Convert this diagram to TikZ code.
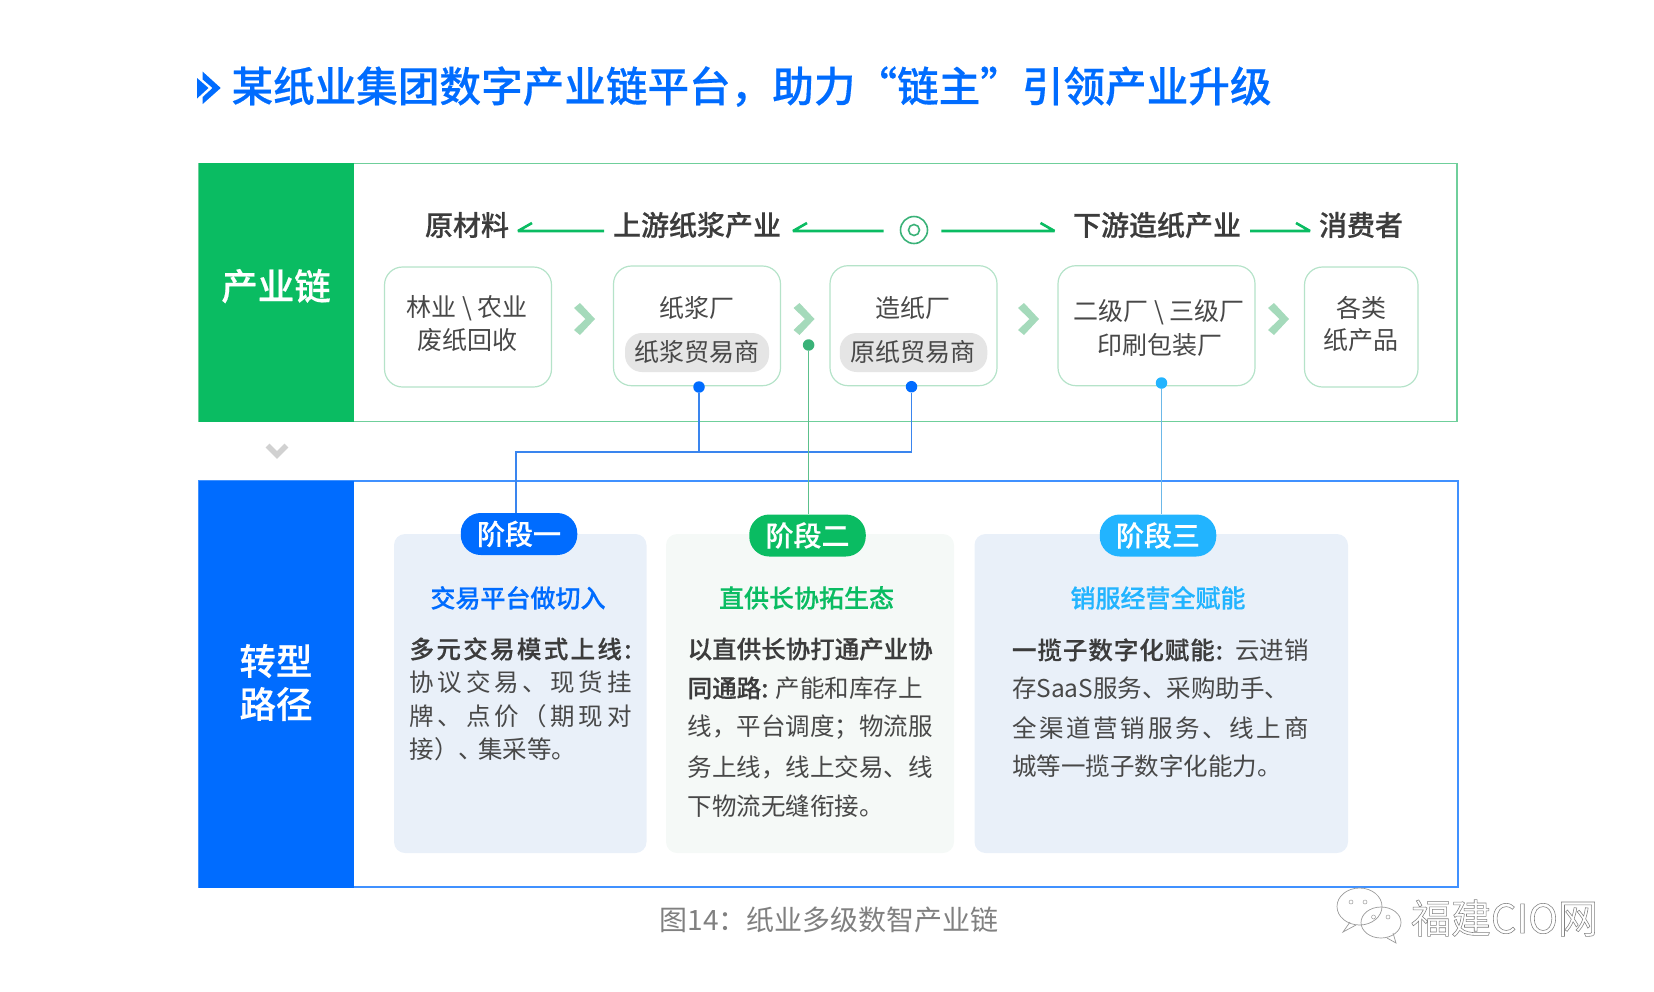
\documentclass[tikz,border=0pt]{standalone}
\usepackage{fontspec}
\setmainfont{Noto Sans CJK SC}[BoldFont={Noto Sans CJK SC Medium},BoldFeatures={FakeBold=0.4}]
\definecolor{cgreen}{HTML}{0ABC62}
\definecolor{cblue}{HTML}{006CFF}
\definecolor{csky}{HTML}{22B4FF}
\definecolor{boxline}{HTML}{B5E3C9}
\definecolor{chev}{HTML}{A5DABB}
\definecolor{dark}{HTML}{3C3C3C}
\definecolor{body}{HTML}{484848}
\definecolor{pillgrey}{HTML}{E5E5E5}
\definecolor{panelblue}{HTML}{E9F0F9}
\definecolor{panelgreen}{HTML}{F5F9F7}
\definecolor{framegreen}{HTML}{6FCF9B}
\definecolor{linkblue}{HTML}{3A85EE}
\definecolor{linkgreen}{HTML}{5CC08C}
\definecolor{linksky}{HTML}{6CB8E8}
\definecolor{dotgreen}{HTML}{3AB278}
\newcommand\fz[1]{\fontsize{#1}{#1}\selectfont\rule[-.12em]{0pt}{1em}}
\makeatletter
\def\jst#1{\jst@#1\@nil}
\def\jst@#1#2\@nil{#1\ifx\relax#2\relax\else\hfill\jst@#2\@nil\fi}
\makeatother
\newcommand\jbox[2]{\hbox to #1pt{#2}}
\newcommand\chevron[1]{\fill[chev,shift={(#1,319)}] (6,-16) -- (21,0) -- (6,16) -- (0,11) -- (11.5,0) -- (0,-11) -- cycle;}
\tikzset{
  txt/.style={inner sep=0pt,outer sep=0pt,text=body},
  hdr/.style={inner sep=9pt,outer sep=0pt,text=dark,font=\fz{28}\bfseries},
  cell/.style={txt,font=\fz{25}},
  ln/.style={txt,anchor=west,font=\fz{24.5}},
  blockbox/.style={draw=none,inner sep=0pt,outer sep=0pt,text=white,font=\fz{36.5}\bfseries},
  rbox/.style={draw=boxline,line width=1.2pt,rounded corners=18pt,fill=white},
  greypill/.style={fill=pillgrey,rounded corners=17pt,inner sep=0pt},
  stage/.style={text=white,rounded corners=20pt,inner sep=0pt,minimum width=116.5pt,minimum height=42pt,font=\fz{28}\bfseries},
  panel/.style={rounded corners=11pt},
  harrow/.style={cgreen,line width=2.6pt,line join=bevel},
  dotn/.style={circle,inner sep=0pt,minimum size=11.5pt},
  link/.style={line width=1.3pt},
}
\begin{document}
\begin{tikzpicture}[x=1pt,y=-1pt]
\useasboundingbox (0,0) rectangle (1654,991);
% title
\fill[cblue] (197,78) -- (197,98.5) -- (208.5,88) -- cycle;
\fill[cblue] (202.7,71.7) -- (220.7,88) -- (202.7,104) -- (202.7,97) -- (212.5,88) -- (202.7,79.5) -- cycle;
\node[txt,anchor=west,text=cblue,font=\fz{41.6}\bfseries] (title) at (231.5,86) {某纸业集团数字产业链平台，助力“链主”引领产业升级};
% frames
\draw[draw=framegreen,line width=1.3pt] (198.5,163.5) rectangle (1457,421.5);
\fill[cgreen] (198.5,163) rectangle (354,422);
\draw[draw=cblue!75!white,line width=1.3pt] (198.5,481) rectangle (1458,887);
\fill[cblue] (198.5,480.5) rectangle (354,887.5);
\node[blockbox] (chain) at (276,286) {产业链};
\node[blockbox] (path1) at (276,661) {转型};
\node[blockbox] (path2) at (276,704) {路径};
\draw[draw=black!18,line width=5.5pt] (267.5,445.5) -- (277,455) -- (286.5,445.5);
% headers
\node[hdr] (h1) at (467,225) {原材料};
\node[hdr] (h2) at (697,225) {上游纸浆产业};
\node[circle,draw=dotgreen,line width=1.6pt,minimum size=27pt,inner sep=0pt] (ctr) at (914,230) {};
\node[circle,draw=dotgreen,line width=1.6pt,minimum size=11pt,inner sep=0pt] (ctri) at (914,230) {};
\node[hdr] (h3) at (1157,225) {下游造纸产业};
\node[hdr] (h4) at (1361,225) {消费者};
\draw[harrow] ([yshift=-6pt]h2.west) -- ([yshift=-6pt]h1.east) -- ++(14,-8);
\draw[harrow] ([xshift=-16pt,yshift=-1pt]ctr.west) -- ([xshift=3pt,yshift=-6pt]h2.east) -- ++(14,-8);
\draw[harrow] ([xshift=13pt,yshift=-1pt]ctr.east) -- ([xshift=-9.5pt,yshift=-6pt]h3.west) -- ++(-14,-8);
\draw[harrow] ([yshift=-6pt]h3.east) -- ([yshift=-6pt]h4.west) -- ++(-14,-8);
% boxes
\draw[rbox] (384.5,267) rectangle (551.5,387);
\draw[rbox] (613.5,266) rectangle (780.5,385.7);
\draw[rbox] (830,265.7) rectangle (997,385.7);
\draw[rbox] (1058,265.7) rectangle (1255,385.7);
\draw[rbox] (1304.5,267) rectangle (1418,387);
\node[cell] (b1a) at (467,308) {林业 \textbackslash\ 农业};
\node[cell] (b1b) at (467,340) {废纸回收};
\node[cell] (b2a) at (697,308) {纸浆厂};
\node[greypill,minimum width=144pt,minimum height=39pt] (p2) at (697,352.5) {};
\node[cell] (b2b) at (697,352) {纸浆贸易商};
\node[cell] (b3a) at (913,308) {造纸厂};
\node[greypill,minimum width=147.5pt,minimum height=39pt] (p3) at (913.5,352.5) {};
\node[cell] (b3b) at (913,352) {原纸贸易商};
\node[cell] (b4a) at (1159,312) {二级厂 \textbackslash\ 三级厂};
\node[cell] (b4b) at (1160,345) {印刷包装厂};
\node[cell] (b5a) at (1361,308) {各类};
\node[cell] (b5b) at (1361,340) {纸产品};
\chevron{574}
\chevron{793.5}
\chevron{1018}
\chevron{1268}
% panels
\fill[panel,panelblue] (394,534) rectangle (646.5,853);
\fill[panel,panelgreen] (666,534) rectangle (954,853);
\fill[panel,panelblue] (974.5,534) rectangle (1348,853);
\node[stage,fill=cblue] (s1) at (519,534) {阶段一};
\node[stage,fill=cgreen] (s2) at (807.5,535.5) {阶段二};
\node[stage,fill=csky] (s3) at (1158,535.5) {阶段三};
% connectors
\node[dotn,fill=cblue] (d1) at (699,387) {};
\node[dotn,fill=cblue] (d2) at (911.5,386.7) {};
\node[dotn,fill=dotgreen] (d3) at (808.6,345) {};
\node[dotn,fill=csky] (d4) at (1161.5,383) {};
\coordinate (jl) at (516,452);
\draw[link,linkblue] (d1.south) -- (d1.south |- jl);
\draw[link,linkblue] (d2.south) |- (jl) -- (jl |- s1.north);
\draw[link,linkgreen] (d3.south) -- (s2.north -| d3.south);
\draw[link,linksky] (d4.south) -- (s3.north -| d4.south);
% panel headings
\node[txt,font=\fz{25}\bfseries,text=cblue] (t1) at (518,598) {交易平台做切入};
\node[txt,font=\fz{25}\bfseries,text=cgreen] (t2) at (806.5,598) {直供长协拓生态};
\node[txt,font=\fz{25}\bfseries,text=csky] (t3) at (1158,598) {销服经营全赋能};
% panel 1
\node[ln,text=dark] (l11) at (409.6,649) {\bfseries\jbox{222}{\jst{多元交易模式上线:}}};
\node[ln] (l12) at (409.6,682) {\jbox{222}{\jst{协议交易、现货挂}}};
\node[ln] (l13) at (409.6,716) {\jbox{222}{\jst{牌、点价（期现对}}};
\node[ln] (l14) at (409.6,749) {接）、\kern-5pt 集采等。};
% panel 2
\node[ln,text=dark] (l21) at (687.7,649) {\bfseries 以直供长协打通产业协};
\node[ln] (l22) at (687.7,688) {\textcolor{dark}{\bfseries 同通路:} 产能和库存上};
\node[ln] (l23) at (687.7,727) {线，平台调度；物流服};
\node[ln] (l24) at (687.7,767) {务上线，线上交易、线};
\node[ln] (l25) at (687.7,806) {下物流无缝衔接。};
% panel 3
\node[ln] (l31) at (1012,650) {\jbox{296.6}{\textcolor{dark}{\bfseries\jbox{211}{\jst{一揽子数字化赋能:}}}\hfill 云进销}};
\node[ln] (l32) at (1012,688) {存SaaS服务、采购助手、};
\node[ln] (l33) at (1012,727.7) {\jbox{296.6}{\jst{全渠道营销服务、线上商}}};
\node[ln] (l34) at (1012,766) {城等一揽子数字化能力。};
% caption
\node[txt,text=black!50,font=\fz{28}] (cap) at (829,920) {图14：纸业多级数智产业链};
% watermark
\begin{scope}[draw=black!40,fill=white,line width=.7pt]
\draw (1350,922) -- (1343,932) -- (1356,925);
\draw (1359.5,906.5) ellipse [x radius=22.5,y radius=18.5];
\draw (1387,938) -- (1396,943) -- (1393,933);
\draw (1381,922.5) ellipse [x radius=20,y radius=15.5];
\end{scope}
\foreach \px/\py in {1351/902,1365/902,1373.5/917,1388/917}
  \draw[black!40,line width=.5pt] (\px,\py) circle [radius=2];
\node[txt,anchor=west,font=\fz{40}] (wm) at (1411,918) {\special{pdf:code 2 Tr 0.55 w 0.5 0.5 0.5 RG 1 1 1 rg}福建CIO网\special{pdf:code 0 Tr 0 w}};
\end{tikzpicture}
\end{document}
